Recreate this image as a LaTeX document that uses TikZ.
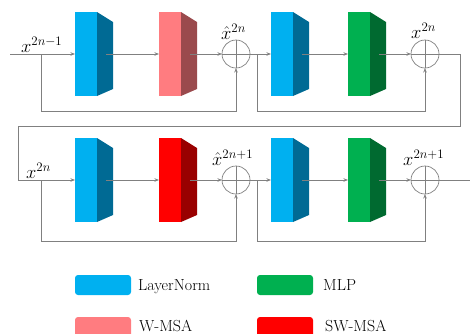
\documentclass[tikz,border=0pt]{standalone}
\usepackage{fix-cm}
\usetikzlibrary{arrows.meta}
\definecolor{lnF}{HTML}{00B0F0}
\definecolor{lnS}{HTML}{006A94}
\definecolor{wmF}{HTML}{FF7C80}
\definecolor{wmS}{HTML}{9A4A4D}
\definecolor{mlF}{HTML}{00B050}
\definecolor{mlS}{HTML}{006A30}
\definecolor{swF}{HTML}{FF0000}
\definecolor{swS}{HTML}{990000}
\definecolor{lineG}{HTML}{808080}
\tikzset{
  blockfront/.style={rectangle, minimum width=22pt, minimum height=84pt, inner sep=0pt, outer sep=0pt, draw=none},
  sumc/.style={circle, draw=lineG, line width=0.7pt, minimum size=28pt, inner sep=0pt, outer sep=0pt},
  conn/.style={draw=lineG, line width=0.7pt, -{Stealth[length=4.5pt,width=3.5pt]}},
  plain/.style={draw=lineG, line width=0.7pt},
  lbl/.style={inner sep=0pt, font=\fontsize{18.5}{20}\selectfont},
  swatch/.style={rectangle, rounded corners=3pt, minimum width=56pt, minimum height=20pt, inner sep=0pt, draw=none},
  legtxt/.style={inner sep=0pt, anchor=base west, font=\fontsize{16}{18}\selectfont}
}
\newcommand{\blk}[5]{%
  \node[blockfront, fill=#4, anchor=north west] (#1) at (#2,#3) {};
  \fill[#5] (#1.north east) -- ++(16,10) -- ++(0,67) -- (#1.south east) -- cycle;
  \coordinate (#1o) at ([xshift=9pt]#1.east);}
\newcommand{\sumnode}[3]{%
  \node[sumc] (#1) at (#2,#3) {};
  \draw[plain] (#1.north) -- (#1.south) (#1.west) -- (#1.east);}
\begin{document}
\begin{tikzpicture}[x=1pt,y=-1pt]
\useasboundingbox (0,0) rectangle (470,333);
% row 1
\blk{b1}{75}{12}{lnF}{lnS}
\blk{b2}{159}{12}{wmF}{wmS}
\blk{b3}{271}{12}{lnF}{lnS}
\blk{b4}{348}{12}{mlF}{mlS}
\sumnode{c1}{236}{54}
\sumnode{c2}{425}{54}
% row 2
\blk{b5}{75}{138}{lnF}{lnS}
\blk{b6}{159}{138}{swF}{swS}
\blk{b7}{271}{138}{lnF}{lnS}
\blk{b8}{348}{138}{mlF}{mlS}
\sumnode{c3}{236}{180}
\sumnode{c4}{425}{180}
% coordinates
\coordinate (in1) at (10,54);
\coordinate (br1) at (41,54);
\coordinate (d1) at (41,111);
\coordinate (br2) at (257,54);
\coordinate (d2) at (257,111);
\coordinate (w1) at (460,54);
\coordinate (w2) at (460,126);
\coordinate (w3) at (18,126);
\coordinate (w4) at (18,180);
\coordinate (br3) at (41,180);
\coordinate (d3) at (41,241);
\coordinate (br4) at (257,180);
\coordinate (d4) at (257,241);
\coordinate (out) at (470,180);
% row 1 connectors
\draw[conn] (in1) -- (b1.west);
\draw[conn] (b1o) -- (b2.west);
\draw[conn] (b2o) -- (c1.west);
\draw[conn] (br1) -- (d1) -| (c1.south);
\draw[conn] (c1.east) -- (b3.west);
\draw[conn] (b3o) -- (b4.west);
\draw[conn] (b4o) -- (c2.west);
\draw[conn] (br2) -- (d2) -| (c2.south);
\draw[conn] (c2.east) -- (w1) -- (w2) -- (w3) -- (w4) -- (b5.west);
% row 2 connectors
\draw[conn] (b5o) -- (b6.west);
\draw[conn] (b6o) -- (c3.west);
\draw[conn] (br3) -- (d3) -| (c3.south);
\draw[conn] (c3.east) -- (b7.west);
\draw[conn] (b7o) -- (b8.west);
\draw[conn] (b8o) -- (c4.west);
\draw[conn] (br4) -- (d4) -| (c4.south);
\draw[plain] (c4.east) -- (out);
% labels
\node[lbl, anchor=base west] (l1) at (21,52) {$x^{2n-1}$};
\node[lbl, anchor=base west] (l2) at (221,39) {$\hat{x}^{2n}$};
\node[lbl, anchor=base west] (l3) at (411,38) {$x^{2n}$};
\node[lbl, anchor=base west] (l4) at (26,178) {$x^{2n}$};
\node[lbl, anchor=base west] (l5) at (212,165) {$\hat{x}^{2n+1}$};
\node[lbl, anchor=base west] (l6) at (403,165) {$x^{2n+1}$};
% legend
\node[swatch, fill=lnF] (k1) at (103,285) {};
\node[legtxt] (t1) at (138,290) {LayerNorm};
\node[swatch, fill=mlF] (k2) at (285,285) {};
\node[legtxt] (t2) at (323,290) {MLP};
\node[swatch, fill=wmF] (k3) at (103,327) {};
\node[legtxt] (t3) at (139,331) {W-MSA};
\node[swatch, fill=swF] (k4) at (285,327) {};
\node[legtxt] (t4) at (325,331) {SW-MSA};
\end{tikzpicture}
\end{document}
